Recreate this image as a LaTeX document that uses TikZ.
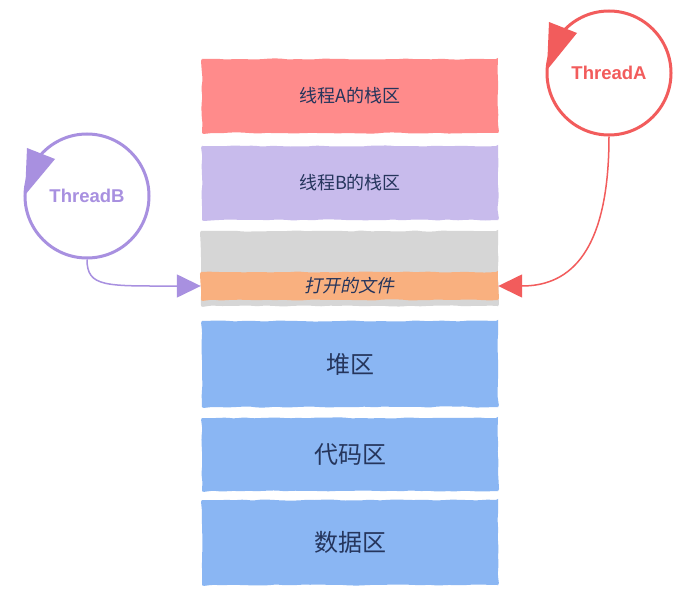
\documentclass[tikz,border=0pt]{standalone}
\usepackage{fontspec}
\newfontfamily\cjk{Noto Sans CJK SC}
\newfontfamily\cjkit{Noto Sans CJK SC}[FakeSlant=0.2]
\newfontfamily\lsans{Liberation Sans}
\usetikzlibrary{arrows.meta,decorations.pathmorphing,calc}
\definecolor{boxred}{HTML}{FF8B8B}
\definecolor{boxpurple}{HTML}{C8BBEC}
\definecolor{boxgray}{HTML}{D6D6D6}
\definecolor{boxorange}{HTML}{F9B07F}
\definecolor{boxblue}{HTML}{8AB6F3}
\definecolor{labeltext}{HTML}{25355C}
\definecolor{thrA}{HTML}{F25C5C}
\definecolor{thrB}{HTML}{A890E0}
\tikzset{
  membox/.style={rectangle, inner sep=0pt, minimum width=296pt, text=labeltext,
    decorate, decoration={random steps, segment length=9pt, amplitude=0.6pt},
    rounded corners=2pt},
  smalllabel/.style={font=\cjk\fontsize{18}{20}\selectfont},
  biglabel/.style={font=\cjk\fontsize{24}{26}\selectfont},
  threadcircle/.style={circle, draw, line width=3pt, minimum size=124pt, inner sep=0pt,
    font=\lsans\bfseries\fontsize{18.5}{20}\selectfont},
  conn/.style={line width=1.5pt, -{Triangle[length=24pt,width=23pt]}},
}
\begin{document}
\begin{tikzpicture}[x=1pt,y=-1pt]
\pgfmathsetseed{7}
\useasboundingbox (0,0) rectangle (683,607);
\fill[white] (0,0) rectangle (683,607);
% memory boxes
\node[membox, smalllabel, fill=boxred, minimum height=74pt] (stackA) at (350,96) {线程A的栈区};
\node[membox, smalllabel, fill=boxpurple, minimum height=74pt] (stackB) at (350,183) {线程B的栈区};
\node[membox, fill=boxgray, minimum width=297pt, minimum height=75pt] (gray) at (349.5,268.5) {};
\node[membox, fill=boxorange, minimum width=297pt, minimum height=28pt,
  font=\cjkit\fontsize{18}{20}\selectfont] (file) at (349.5,286) {打开的文件};
\node[membox, biglabel, fill=boxblue, minimum height=86pt] (heap) at (350,364) {堆区};
\node[membox, biglabel, fill=boxblue, minimum height=73pt] (code) at (350,454.5) {代码区};
\node[membox, biglabel, fill=boxblue, minimum height=85pt] (data) at (350,542.5) {数据区};
% threads
\node[threadcircle, draw=thrA, text=thrA] (tA) at (609,73) {ThreadA};
\fill[thrA] ($(tA.center)+(-62,-3)$) -- ($(tA.center)+(-60,-51)$) -- ($(tA.center)+(-32,-40)$) -- cycle;
\node[threadcircle, draw=thrB, text=thrB] (tB) at (87,196) {ThreadB};
\fill[thrB] ($(tB.center)+(-62,-1)$) -- ($(tB.center)+(-60,-48)$) -- ($(tB.center)+(-32,-37)$) -- cycle;
% connectors
\draw[conn, thrA] (tA.south) .. controls +(0,125) and +(65,0) .. (file.east);
\draw[conn, thrB] (tB.south) .. controls +(0,28) and +(-95,0) .. (file.west);
\end{tikzpicture}
\end{document}
